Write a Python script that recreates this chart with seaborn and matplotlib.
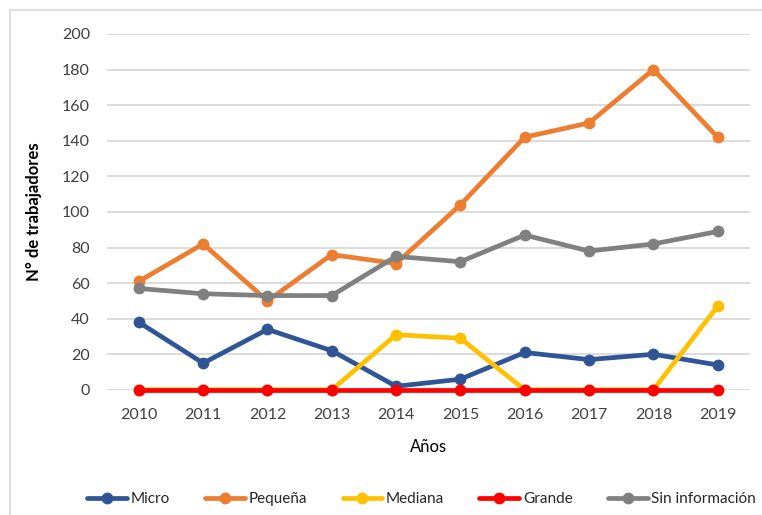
import matplotlib
matplotlib.use("Agg")
import matplotlib.pyplot as plt
import seaborn as sns
import pandas as pd
from matplotlib.patches import Rectangle

years = [2010, 2011, 2012, 2013, 2014, 2015, 2016, 2017, 2018, 2019]
micro = [38, 15, 34, 22, 2, 6, 21, 17, 20, 14]
pequena = [61, 82, 50, 76, 71, 104, 142, 150, 180, 142]
mediana = [0, 0, 0, 0, 31, 29, 0, 0, 0, 47]
grande = [0, 0, 0, 0, 0, 0, 0, 0, 0, 0]
sin_info = [57, 54, 53, 53, 75, 72, 87, 78, 82, 89]

series_names = ["Micro", "Pequeña", "Mediana", "Grande", "Sin información"]
series_values = [micro, pequena, mediana, grande, sin_info]
colors = ["#2F5597", "#ED7D31", "#FFC000", "#FF0000", "#808080"]
y_ticks = [0, 20, 40, 60, 80, 100, 120, 140, 160, 180, 200]

rows = []
for name, vals in zip(series_names, series_values):
    for i, (yr, v) in enumerate(zip(years, vals)):
        rows.append({"pos": i, "Año": str(yr), "Serie": name, "Valor": v})
df = pd.DataFrame(rows)

sns.set_theme(style="white")
plt.rcParams["font.family"] = ["Lato", "DejaVu Sans"]

fig = plt.figure(figsize=(7.62, 5.15), dpi=100)
ax = fig.add_axes([0.140, 0.243, 0.844, 0.691])

# chart frame
fig.patches.append(Rectangle((10 / 762, -0.1), 1.2, 1 - 10 / 515 + 0.1,
                             transform=fig.transFigure, fill=False,
                             edgecolor="#D9D9D9", linewidth=1.2, zorder=0))

sns.lineplot(data=df, x="pos", y="Valor", hue="Serie", hue_order=series_names,
             palette=colors, marker="o", markersize=8.5, markeredgewidth=0,
             linewidth=3.4, ax=ax, legend=True)
for ln in ax.lines:
    ln.set_clip_on(False)

ax.set_xlim(-0.5, len(years) - 0.5)
ax.set_ylim(0, 200)
ax.set_xticks(range(len(years)))
ax.set_xticklabels([str(y) for y in years], fontsize=11.5, color="#404040")
ax.set_yticks(y_ticks)
ax.set_yticklabels([str(t) for t in y_ticks], fontsize=11.5, color="#404040")
ax.tick_params(axis="x", length=0, pad=13)
ax.tick_params(axis="y", length=0, pad=12)
ax.grid(axis="y", color="#D9D9D9", linewidth=1.3)
ax.set_axisbelow(True)
for s in ax.spines.values():
    s.set_visible(False)

ax.set_xlabel("Años", fontsize=12, color="#000000", labelpad=12)
ax.set_ylabel("N° de trabajadores", fontsize=12, fontweight="bold",
              color="#000000", labelpad=14)

handles, labels = ax.get_legend_handles_labels()
ax.legend(handles, labels, loc="lower center", bbox_to_anchor=(0.49, -0.365),
          ncol=5, frameon=False, fontsize=11, handlelength=2.6,
          columnspacing=2.3, handletextpad=0.25)

fig.savefig("out.png", dpi=100)
